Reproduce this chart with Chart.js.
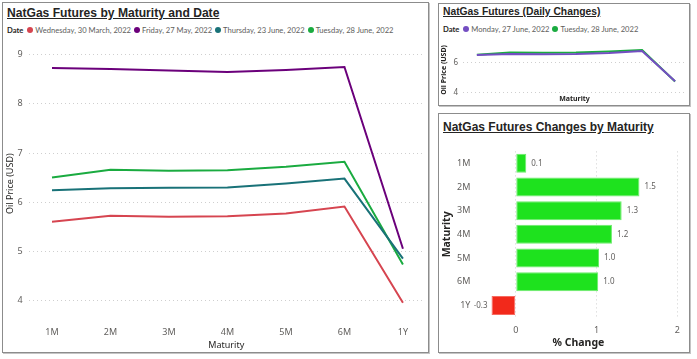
<!DOCTYPE html>
<html>
<head>
<meta charset="utf-8">
<script src="https://cdn.jsdelivr.net/npm/chart.js@4"></script>
<style>
  body { margin: 0; width: 697px; height: 359px; background: #fff; position: relative; overflow: hidden; font-family: 'Noto Sans', sans-serif; }
  .panel { position: absolute; border: 1px solid #8c8c8c; box-shadow: 1px 1px 0 #c4c4c4; box-sizing: border-box; background: #fff; }
  .title { position: absolute; font-family: 'Liberation Sans', Arial, sans-serif; font-weight: bold; color: #252423; text-decoration: underline; white-space: nowrap; }
  .legend { position: absolute; display: flex; align-items: center; color: #605E5C; white-space: nowrap; font-family: Lato, sans-serif; }
  .legend b { color: #252423; margin-right: 4px; }
  .legend .dot { display: inline-block; border-radius: 50%; margin-right: 2px; }
  .legend .item { display: flex; align-items: center; margin-right: 3px; }
  .box { position: absolute; }
</style>
</head>
<body>
<div class="panel" style="left:2px; top:2px; width:427px; height:351px;"></div>
<div class="panel" style="left:438px; top:3px; width:252px; height:103px;"></div>
<div class="panel" style="left:438px; top:113px; width:252px; height:240px;"></div>

<div class="title" style="left:7px; top:6px; font-size:12.1px;">NatGas Futures by Maturity and Date</div>
<div class="legend" id="mainLegend" style="left:7px; top:25px; font-size:7.6px;"></div>
<div class="box" style="left:3px; top:36px; width:424px; height:315px;"><canvas id="mainChart"></canvas></div>

<div class="title" style="left:443px; top:6px; font-size:10.3px;">NatGas Futures (Daily Changes)</div>
<div class="legend" id="dailyLegend" style="left:443px; top:24px; font-size:7.6px;"></div>
<div class="box" style="left:439px; top:36px; width:249px; height:68px;"><canvas id="dailyChart"></canvas></div>

<div class="title" style="left:443px; top:120px; font-size:12px;">NatGas Futures Changes by Maturity</div>
<div class="box" style="left:439px; top:137px; width:249px; height:214px;"><canvas id="barChart"></canvas></div>

<script>
// maturities on the x axis
const maturities = ['1M', '2M', '3M', '4M', '5M', '6M', '1Y'];

// prices (USD) per date
const mar30 = [5.60, 5.72, 5.70, 5.71, 5.77, 5.91, 3.95];
const may27 = [8.73, 8.71, 8.68, 8.65, 8.69, 8.75, 5.05];
const jun23 = [6.24, 6.28, 6.29, 6.30, 6.38, 6.48, 4.85];
const jun27 = [6.49, 6.56, 6.54, 6.56, 6.63, 6.75, 4.74];
const jun28 = [6.50, 6.66, 6.64, 6.65, 6.72, 6.82, 4.73];

// % change 27 -> 28 June
const pctChange = [0.13, 1.53, 1.31, 1.19, 1.03, 1.02, -0.30];

const mainTicks = [4, 5, 6, 7, 8, 9];
const dailyTicks = [4, 6];
const barTicks = [0, 1, 2];

Chart.defaults.font.family = "'Noto Sans', sans-serif";
Chart.defaults.color = '#605E5C';
Chart.defaults.animation = false;

const gridColor = '#cfcfcf';

function toPoints(values) {
  return values.map((v, i) => ({ x: i, y: v }));
}

function buildLegend(id, items, dotSize) {
  const el = document.getElementById(id);
  el.innerHTML = '<b>Date</b>' + items.map(it =>
    `<span class="item"><span class="dot" style="width:${dotSize}px;height:${dotSize}px;background:${it.color}"></span>${it.label}</span>`
  ).join('');
}

// ---- main line chart ----
const mainSeries = [
  { label: 'Wednesday, 30 March, 2022', data: mar30, color: '#D64550' },
  { label: 'Friday, 27 May, 2022', data: may27, color: '#6B007B' },
  { label: 'Thursday, 23 June, 2022', data: jun23, color: '#197278' },
  { label: 'Tuesday, 28 June, 2022', data: jun28, color: '#1AAB40' }
];
buildLegend('mainLegend', mainSeries, 6);

new Chart(document.getElementById('mainChart'), {
  type: 'line',
  data: {
    datasets: mainSeries.map(s => ({
      label: s.label,
      data: toPoints(s.data),
      borderColor: s.color,
      backgroundColor: s.color,
      borderWidth: 2,
      pointRadius: 0,
      tension: 0
    }))
  },
  options: {
    responsive: true,
    maintainAspectRatio: false,
    layout: { padding: { top: 2.4, right: 3, left: 0, bottom: 0 } },
    plugins: { legend: { display: false }, tooltip: { enabled: false } },
    scales: {
      x: {
        type: 'linear',
        min: -0.4,
        max: 6.36,
        afterBuildTicks: axis => { axis.ticks = maturities.map((_, i) => ({ value: i })); },
        afterFit: scale => { scale.height = 31; },
        ticks: { autoSkip: false, maxRotation: 0, padding: 7, font: { size: 9 }, callback: v => maturities[v] },
        grid: { display: false, drawTicks: false },
        border: { display: false },
        title: { display: true, text: 'Maturity', color: '#252423', font: { size: 9 }, padding: { top: 0, bottom: 0 } }
      },
      y: {
        min: 3.6,
        max: 9.15,
        afterBuildTicks: axis => { axis.ticks = mainTicks.map(v => ({ value: v })); },
        afterFit: scale => { scale.width = 25.6; },
        ticks: { padding: 6, font: { size: 9 } },
        grid: { color: gridColor, drawTicks: false },
        border: { display: false, dash: [1, 3] },
        title: { display: true, text: 'Oil Price (USD)', color: '#252423', font: { size: 9 }, padding: { top: 2, bottom: 0 } }
      }
    }
  }
});

// ---- daily changes chart ----
const dailySeries = [
  { label: 'Monday, 27 June, 2022', data: jun27, color: '#744EC2' },
  { label: 'Tuesday, 28 June, 2022', data: jun28, color: '#1AAB40' }
];
buildLegend('dailyLegend', dailySeries, 6);

new Chart(document.getElementById('dailyChart'), {
  type: 'line',
  data: {
    datasets: dailySeries.map(s => ({
      label: s.label,
      data: toPoints(s.data),
      borderColor: s.color,
      backgroundColor: s.color,
      borderWidth: 2,
      pointRadius: 0,
      tension: 0
    }))
  },
  options: {
    responsive: true,
    maintainAspectRatio: false,
    layout: { padding: { top: 3, right: 2, left: 0, bottom: 0 } },
    plugins: { legend: { display: false }, tooltip: { enabled: false } },
    scales: {
      x: {
        type: 'linear',
        min: -0.42,
        max: 6.33,
        afterFit: scale => { scale.height = 10; },
        ticks: { display: false },
        grid: { display: false, drawTicks: false },
        border: { display: false },
        title: { display: true, text: 'Maturity', color: '#252423', font: { size: 7, weight: 'bold' }, padding: { top: 0, bottom: 0.5 } }
      },
      y: {
        min: 3.9,
        max: 7.1,
        afterBuildTicks: axis => { axis.ticks = dailyTicks.map(v => ({ value: v })); },
        afterFit: scale => { scale.width = 24; },
        ticks: { padding: 5, font: { size: 8 } },
        grid: { color: gridColor, drawTicks: false },
        border: { display: false, dash: [1, 3] },
        title: { display: true, text: 'Oil Price (USD)', color: '#252423', font: { size: 7, weight: 'bold' }, padding: { top: 1, bottom: 0 } }
      }
    }
  }
});

// ---- % change bar chart ----
const barValueLabels = {
  id: 'barValueLabels',
  afterDatasetsDraw(chart) {
    const ctx = chart.ctx;
    const meta = chart.getDatasetMeta(0);
    ctx.save();
    ctx.font = "8px 'Noto Sans'";
    ctx.fillStyle = '#605E5C';
    ctx.textBaseline = 'middle';
    meta.data.forEach((bar, i) => {
      const v = pctChange[i];
      const neg = v < 0;
      ctx.textAlign = neg ? 'right' : 'left';
      ctx.fillText(v.toFixed(1), bar.x + (neg ? -4 : 5), bar.y);
    });
    ctx.restore();
  }
};

new Chart(document.getElementById('barChart'), {
  type: 'bar',
  data: {
    labels: maturities,
    datasets: [{
      label: '% Change',
      data: pctChange,
      backgroundColor: pctChange.map(v => v < 0 ? '#F2291B' : '#1EE21E'),
      borderColor: pctChange.map(v => v < 0 ? '#F76A60' : '#6CEC6C'),
      borderWidth: 1,
      borderSkipped: false,
      categoryPercentage: 1,
      barPercentage: 0.8
    }]
  },
  plugins: [barValueLabels],
  options: {
    indexAxis: 'y',
    responsive: true,
    maintainAspectRatio: false,
    layout: { padding: { top: 11.6, right: 2.7, left: 0, bottom: 0 } },
    plugins: { legend: { display: false }, tooltip: { enabled: false } },
    scales: {
      x: {
        min: -0.45,
        max: 2,
        afterBuildTicks: axis => { axis.ticks = barTicks.map(v => ({ value: v })); },
        afterFit: scale => { scale.height = 33.7; },
        ticks: { padding: 8, font: { size: 9 } },
        grid: { color: gridColor, drawTicks: false },
        border: { display: false, dash: [1, 3] },
        title: { display: true, text: '% Change', color: '#252423', font: { size: 10.5, weight: 'bold' }, padding: { top: 0, bottom: 1.4 } }
      },
      y: {
        afterFit: scale => { scale.width = 40.4; },
        ticks: { padding: 9, font: { size: 9 } },
        grid: { display: false, drawTicks: false },
        border: { display: false },
        title: { display: true, text: 'Maturity', color: '#252423', font: { size: 10.5, weight: 'bold' }, padding: { top: 1.7, bottom: 0 } }
      }
    }
  }
});
</script>
</body>
</html>
